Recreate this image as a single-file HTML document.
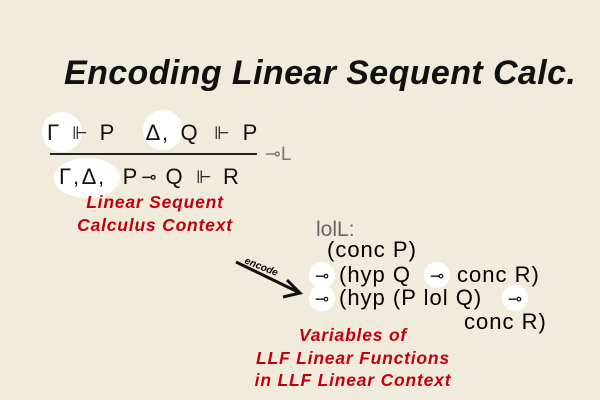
<!DOCTYPE html><html><head><style>
body{margin:0;width:600px;height:400px;background:#f1ebdb;position:relative;overflow:hidden;font-family:"Liberation Sans","DejaVu Sans",sans-serif}
.t{position:absolute;white-space:nowrap;line-height:1}
.c{position:absolute;background:#fff;border-radius:50%}
.r{color:#c40010;font-weight:bold;font-style:italic;font-size:17.5px;text-align:center;position:absolute;line-height:22.5px;letter-spacing:0.8px}
.m{position:absolute;white-space:nowrap;line-height:1;font-size:22px;color:#111;transform:translate(-50%,-50%)}
</style></head><body>
<div class="t" style="left:64px;top:56px;font-size:34px;letter-spacing:0.4px;font-weight:bold;font-style:italic;color:#111">Encoding Linear Sequent Calc.</div>
<div class="c" style="left:42px;top:112px;width:40px;height:40px"></div>
<div class="c" style="left:143px;top:110px;width:40px;height:40px"></div>
<div class="c" style="left:54px;top:158px;width:66px;height:40px"></div>
<div class="m" style="left:53px;top:133px">Γ</div>
<div class="m" style="left:80px;top:133px;font-size:18px">⊩</div>
<div class="m" style="left:107px;top:133px">P</div>
<div class="m" style="left:153px;top:133px">Δ</div>
<div class="m" style="left:165px;top:133px">,</div>
<div class="m" style="left:189px;top:133px">Q</div>
<div class="m" style="left:222px;top:133px;font-size:18px">⊩</div>
<div class="m" style="left:250px;top:133px">P</div>
<div style="position:absolute;left:50px;top:153px;width:207px;height:2px;background:#222"></div>
<div class="t" style="left:265px;top:145px;font-size:19px;color:#777">⊸L</div>
<div class="m" style="left:65px;top:177px">Γ</div>
<div class="m" style="left:76px;top:177px">,</div>
<div class="m" style="left:89px;top:177px">Δ</div>
<div class="m" style="left:101px;top:177px">,</div>
<div class="m" style="left:130px;top:177px">P</div>
<div class="m" style="left:149px;top:177px;font-size:18px">⊸</div>
<div class="m" style="left:174px;top:177px">Q</div>
<div class="m" style="left:204px;top:177px;font-size:18px">⊩</div>
<div class="m" style="left:231px;top:177px">R</div>
<div class="r" style="left:55px;top:191px;width:200px">Linear Sequent<br>Calculus Context</div>
<div class="t" style="left:316px;top:219px;font-size:21px;color:#666">lolL:</div>
<div class="c" style="left:309px;top:262px;width:26px;height:26px"></div>
<div class="c" style="left:424px;top:262px;width:26px;height:26px"></div>
<div class="c" style="left:309px;top:285px;width:26px;height:26px"></div>
<div class="c" style="left:502px;top:285px;width:26px;height:26px"></div>
<div class="t" style="left:327px;top:239px;font-size:22px;letter-spacing:1px">(conc P)</div>
<div class="m" style="left:322px;top:276px;font-size:17px">⊸</div>
<div class="t" style="left:339px;top:264px;font-size:22px;letter-spacing:1px">(hyp Q</div>
<div class="m" style="left:437px;top:276px;font-size:17px">⊸</div>
<div class="t" style="left:457px;top:264px;font-size:22px;letter-spacing:1px">conc R)</div>
<div class="m" style="left:322px;top:299px;font-size:17px">⊸</div>
<div class="t" style="left:339px;top:287px;font-size:22px;letter-spacing:1px">(hyp (P lol Q)</div>
<div class="m" style="left:515px;top:299px;font-size:17px">⊸</div>
<div class="t" style="left:464px;top:311px;font-size:22px;letter-spacing:1px">conc R)</div>
<svg style="position:absolute;left:0;top:0" width="600" height="400"><line x1="236" y1="262" x2="298" y2="292" stroke="#111" stroke-width="3"/><polyline points="287,280 300,293 283,297" fill="none" stroke="#111" stroke-width="3"/>
<text x="244" y="263" transform="rotate(22 244 263)" font-size="10" font-weight="bold" font-style="italic" font-family="Liberation Sans">encode</text></svg>
<div class="r" style="left:238px;top:324px;width:230px">Variables of<br>LLF Linear Functions<br>in LLF Linear Context</div>
</body></html>
